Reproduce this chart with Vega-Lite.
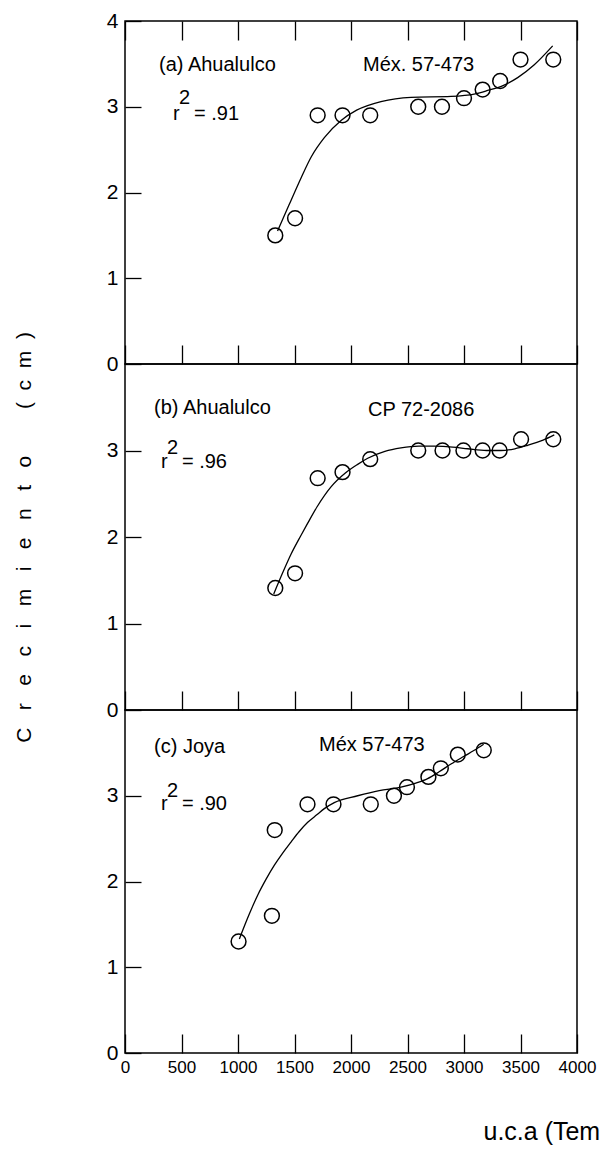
{
  "$schema": "https://vega.github.io/schema/vega-lite/v6.json",
  "background": "white",
  "padding": {"left": 12, "top": 9, "right": 0, "bottom": 0},
  "spacing": 0,
  "bounds": "flush",
  "config": {
    "font": "Liberation Sans",
    "view": {"stroke": "black", "strokeWidth": 1.5},
    "axis": {
      "domain": false,
      "grid": false,
      "tickColor": "black",
      "tickWidth": 1.3,
      "labelColor": "black",
      "titleColor": "black",
      "labelFont": "Liberation Sans",
      "titleFont": "Liberation Sans",
      "titleFontWeight": "normal"
    },
    "text": {"font": "Liberation Sans", "fontSize": 20, "color": "black"}
  },
  "datasets": {
    "points": [
      {"panel": "a", "uca": 1330, "crec": 1.5},
      {"panel": "a", "uca": 1505, "crec": 1.7},
      {"panel": "a", "uca": 1705, "crec": 2.9},
      {"panel": "a", "uca": 1925, "crec": 2.9},
      {"panel": "a", "uca": 2170, "crec": 2.9},
      {"panel": "a", "uca": 2595, "crec": 3.0},
      {"panel": "a", "uca": 2805, "crec": 3.0},
      {"panel": "a", "uca": 3000, "crec": 3.1},
      {"panel": "a", "uca": 3165, "crec": 3.2},
      {"panel": "a", "uca": 3320, "crec": 3.3},
      {"panel": "a", "uca": 3500, "crec": 3.55},
      {"panel": "a", "uca": 3790, "crec": 3.55},
      {"panel": "b", "uca": 1330, "crec": 1.41},
      {"panel": "b", "uca": 1505, "crec": 1.58},
      {"panel": "b", "uca": 1705, "crec": 2.68},
      {"panel": "b", "uca": 1925, "crec": 2.75},
      {"panel": "b", "uca": 2170, "crec": 2.9},
      {"panel": "b", "uca": 2595, "crec": 3.0},
      {"panel": "b", "uca": 2810, "crec": 3.0},
      {"panel": "b", "uca": 2995, "crec": 3.0},
      {"panel": "b", "uca": 3165, "crec": 3.0},
      {"panel": "b", "uca": 3315, "crec": 3.0},
      {"panel": "b", "uca": 3505, "crec": 3.13},
      {"panel": "b", "uca": 3790, "crec": 3.13},
      {"panel": "c", "uca": 1005, "crec": 1.3},
      {"panel": "c", "uca": 1300, "crec": 1.6},
      {"panel": "c", "uca": 1325, "crec": 2.6},
      {"panel": "c", "uca": 1615, "crec": 2.9},
      {"panel": "c", "uca": 1845, "crec": 2.9},
      {"panel": "c", "uca": 2175, "crec": 2.9},
      {"panel": "c", "uca": 2380, "crec": 3.0},
      {"panel": "c", "uca": 2495, "crec": 3.1},
      {"panel": "c", "uca": 2685, "crec": 3.22},
      {"panel": "c", "uca": 2795, "crec": 3.32},
      {"panel": "c", "uca": 2945, "crec": 3.48},
      {"panel": "c", "uca": 3175, "crec": 3.53}
    ],
    "curve": [
      {"panel": "a", "uca": 1350, "crec": 1.55},
      {"panel": "a", "uca": 1450, "crec": 1.85},
      {"panel": "a", "uca": 1558, "crec": 2.17},
      {"panel": "a", "uca": 1650, "crec": 2.42},
      {"panel": "a", "uca": 1764, "crec": 2.64},
      {"panel": "a", "uca": 1912, "crec": 2.84},
      {"panel": "a", "uca": 2050, "crec": 2.96},
      {"panel": "a", "uca": 2265, "crec": 3.06},
      {"panel": "a", "uca": 2531, "crec": 3.11},
      {"panel": "a", "uca": 2885, "crec": 3.12},
      {"panel": "a", "uca": 3100, "crec": 3.15},
      {"panel": "a", "uca": 3210, "crec": 3.19},
      {"panel": "a", "uca": 3350, "crec": 3.25},
      {"panel": "a", "uca": 3475, "crec": 3.34},
      {"panel": "a", "uca": 3622, "crec": 3.49},
      {"panel": "a", "uca": 3785, "crec": 3.71},
      {"panel": "b", "uca": 1316, "crec": 1.34},
      {"panel": "b", "uca": 1400, "crec": 1.6},
      {"panel": "b", "uca": 1469, "crec": 1.8},
      {"panel": "b", "uca": 1558, "crec": 2.02},
      {"panel": "b", "uca": 1617, "crec": 2.16},
      {"panel": "b", "uca": 1700, "crec": 2.35},
      {"panel": "b", "uca": 1823, "crec": 2.58},
      {"panel": "b", "uca": 1950, "crec": 2.74},
      {"panel": "b", "uca": 2059, "crec": 2.84},
      {"panel": "b", "uca": 2148, "crec": 2.91},
      {"panel": "b", "uca": 2300, "crec": 2.99},
      {"panel": "b", "uca": 2442, "crec": 3.03},
      {"panel": "b", "uca": 2600, "crec": 3.05},
      {"panel": "b", "uca": 2737, "crec": 3.05},
      {"panel": "b", "uca": 2900, "crec": 3.04},
      {"panel": "b", "uca": 3033, "crec": 3.02},
      {"panel": "b", "uca": 3200, "crec": 3.0},
      {"panel": "b", "uca": 3327, "crec": 3.0},
      {"panel": "b", "uca": 3450, "crec": 3.02},
      {"panel": "b", "uca": 3563, "crec": 3.06},
      {"panel": "b", "uca": 3700, "crec": 3.12},
      {"panel": "b", "uca": 3799, "crec": 3.18},
      {"panel": "c", "uca": 1012, "crec": 1.33},
      {"panel": "c", "uca": 1100, "crec": 1.62},
      {"panel": "c", "uca": 1174, "crec": 1.84},
      {"panel": "c", "uca": 1250, "crec": 2.03},
      {"panel": "c", "uca": 1322, "crec": 2.19},
      {"panel": "c", "uca": 1400, "crec": 2.34},
      {"panel": "c", "uca": 1469, "crec": 2.46},
      {"panel": "c", "uca": 1540, "crec": 2.58},
      {"panel": "c", "uca": 1617, "crec": 2.69},
      {"panel": "c", "uca": 1700, "crec": 2.78},
      {"panel": "c", "uca": 1764, "crec": 2.85},
      {"panel": "c", "uca": 1852, "crec": 2.92},
      {"panel": "c", "uca": 2059, "crec": 3.0},
      {"panel": "c", "uca": 2250, "crec": 3.06},
      {"panel": "c", "uca": 2442, "crec": 3.1},
      {"panel": "c", "uca": 2580, "crec": 3.15},
      {"panel": "c", "uca": 2678, "crec": 3.2},
      {"panel": "c", "uca": 2780, "crec": 3.28},
      {"panel": "c", "uca": 2885, "crec": 3.37},
      {"panel": "c", "uca": 3000, "crec": 3.46},
      {"panel": "c", "uca": 3091, "crec": 3.53},
      {"panel": "c", "uca": 3174, "crec": 3.6}
    ],
    "notes": [
      {"panel": "a", "uca": 301, "crec": 3.49, "label": "(a) Ahualulco"},
      {"panel": "a", "uca": 2106, "crec": 3.49, "label": "Méx. 57-473"},
      {"panel": "a", "uca": 425, "crec": 2.92, "label": "r"},
      {"panel": "a", "uca": 478, "crec": 3.1, "label": "2"},
      {"panel": "a", "uca": 611, "crec": 2.92, "label": "= .91"},
      {"panel": "b", "uca": 257, "crec": 3.49, "label": "(b) Ahualulco"},
      {"panel": "b", "uca": 2150, "crec": 3.47, "label": "CP 72-2086"},
      {"panel": "b", "uca": 319, "crec": 2.87, "label": "r"},
      {"panel": "b", "uca": 372, "crec": 3.03, "label": "2"},
      {"panel": "b", "uca": 504, "crec": 2.87, "label": "= .96"},
      {"panel": "c", "uca": 257, "crec": 3.57, "label": "(c) Joya"},
      {"panel": "c", "uca": 1717, "crec": 3.59, "label": "Méx 57-473"},
      {"panel": "c", "uca": 319, "crec": 2.9, "label": "r"},
      {"panel": "c", "uca": 372, "crec": 3.05, "label": "2"},
      {"panel": "c", "uca": 504, "crec": 2.9, "label": "= .90"}
    ]
  },
  "vconcat": [
    {
      "width": 452,
      "height": 343,
      "encoding": {
        "x": {"field": "uca", "type": "quantitative", "scale": {"domain": [0, 4000], "nice": false},
              "axis": {"orient": "bottom", "values": [0, 500, 1000, 1500, 2000, 2500, 3000, 3500, 4000], "tickSize": -19, "labels": false, "title": null}},
        "y": {"field": "crec", "type": "quantitative", "scale": {"domain": [0, 4], "nice": false},
              "axis": {"values": [0, 1, 2, 3, 4], "tickSize": -16, "labelPadding": 23, "labelFontSize": 21, "title": null}}
      },
      "layer": [
        {
          "data": {"name": "curve"},
          "transform": [{"filter": "datum.panel == 'a'"}],
          "mark": {"type": "line", "color": "black", "strokeWidth": 1.3, "interpolate": "monotone"}
        },
        {
          "data": {"name": "points"},
          "transform": [{"filter": "datum.panel == 'a'"}],
          "mark": {"type": "point", "shape": "circle", "filled": false, "stroke": "black", "strokeWidth": 1.5, "size": 220, "opacity": 1},
          "encoding": {
            "x": {"field": "uca", "type": "quantitative", "scale": {"domain": [0, 4000], "nice": false},
                  "axis": {"orient": "top", "values": [0, 500, 1000, 1500, 2000, 2500, 3000, 3500, 4000], "tickSize": -19, "labels": false, "title": null}}
          }
        },
        {
          "data": {"name": "notes"},
          "transform": [{"filter": "datum.panel == 'a'"}],
          "mark": {"type": "text", "align": "left", "baseline": "middle"},
          "encoding": {
            "x": {"field": "uca", "type": "quantitative", "scale": {"domain": [0, 4000], "nice": false}, "axis": null},
            "text": {"field": "label"}
          }
        }
      ],
      "resolve": {"axis": {"x": "independent"}}
    },
    {
      "width": 452,
      "height": 346,
      "encoding": {
        "x": {"field": "uca", "type": "quantitative", "scale": {"domain": [0, 4000], "nice": false},
              "axis": {"orient": "bottom", "values": [0, 500, 1000, 1500, 2000, 2500, 3000, 3500, 4000], "tickSize": -19, "labels": false, "title": null}},
        "y": {"field": "crec", "type": "quantitative", "scale": {"domain": [0, 4], "nice": false},
              "axis": {"values": [0, 1, 2, 3], "tickSize": -16, "labelPadding": 23, "labelFontSize": 21,
                       "title": "C\u00a0\u00a0\u00a0r\u00a0\u00a0\u00a0e\u00a0\u00a0\u00a0c\u00a0\u00a0\u00a0i\u00a0\u00a0\u00a0m\u00a0\u00a0\u00a0i\u00a0\u00a0\u00a0e\u00a0\u00a0\u00a0n\u00a0\u00a0\u00a0t\u00a0\u00a0\u00a0o\u00a0\u00a0\u00a0\u00a0\u00a0\u00a0\u00a0\u00a0(\u00a0\u00a0c\u00a0\u00a0m\u00a0\u00a0)",
                       "titleFontSize": 21, "titlePadding": 72}}
      },
      "layer": [
        {
          "data": {"name": "curve"},
          "transform": [{"filter": "datum.panel == 'b'"}],
          "mark": {"type": "line", "color": "black", "strokeWidth": 1.3, "interpolate": "monotone"}
        },
        {
          "data": {"name": "points"},
          "transform": [{"filter": "datum.panel == 'b'"}],
          "mark": {"type": "point", "shape": "circle", "filled": false, "stroke": "black", "strokeWidth": 1.5, "size": 220, "opacity": 1}
        },
        {
          "data": {"name": "notes"},
          "transform": [{"filter": "datum.panel == 'b'"}],
          "mark": {"type": "text", "align": "left", "baseline": "middle"},
          "encoding": {"text": {"field": "label"}}
        }
      ]
    },
    {
      "width": 452,
      "height": 343,
      "encoding": {
        "x": {"field": "uca", "type": "quantitative", "scale": {"domain": [0, 4000], "nice": false},
              "axis": {"orient": "bottom", "values": [0, 500, 1000, 1500, 2000, 2500, 3000, 3500, 4000], "format": "d", "tickSize": -19,
                       "labelPadding": 25, "labelFontSize": 17, "labelFlush": false,
                       "title": "u.c.a (Tem", "titleFontSize": 25, "titleAlign": "left", "titleAnchor": "start",
                       "titleX": 358, "titleY": 86, "titleBaseline": "alphabetic"}},
        "y": {"field": "crec", "type": "quantitative", "scale": {"domain": [0, 4], "nice": false},
              "axis": {"values": [0, 1, 2, 3], "tickSize": -16, "labelPadding": 23, "labelFontSize": 21, "title": null}}
      },
      "layer": [
        {
          "data": {"name": "curve"},
          "transform": [{"filter": "datum.panel == 'c'"}],
          "mark": {"type": "line", "color": "black", "strokeWidth": 1.3, "interpolate": "monotone"}
        },
        {
          "data": {"name": "points"},
          "transform": [{"filter": "datum.panel == 'c'"}],
          "mark": {"type": "point", "shape": "circle", "filled": false, "stroke": "black", "strokeWidth": 1.5, "size": 220, "opacity": 1}
        },
        {
          "data": {"name": "notes"},
          "transform": [{"filter": "datum.panel == 'c'"}],
          "mark": {"type": "text", "align": "left", "baseline": "middle"},
          "encoding": {"text": {"field": "label"}}
        }
      ]
    }
  ]
}
